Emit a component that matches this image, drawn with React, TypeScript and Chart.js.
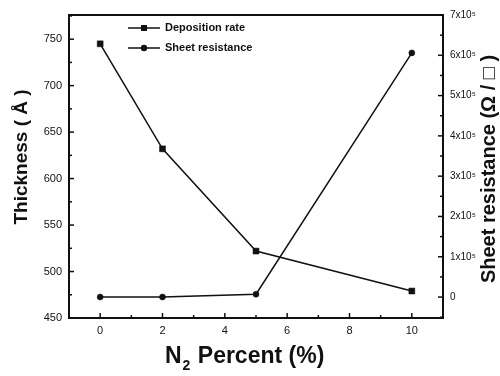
import React, { useEffect, useRef } from "react";
import { Chart, registerables } from "chart.js";

Chart.register(...registerables);

const nPercent = [0, 2, 5, 10];
const thickness = [745, 632, 522, 479];
const sheetResistance = [0, 0, 7000, 606000];
const seriesLabels = ["Deposition rate", "Sheet resistance"];
const xMajor = [0, 2, 4, 6, 8, 10];
const xMinor = [1, 3, 5, 7, 9];
const yMajor = [450, 500, 550, 600, 650, 700, 750];
const yMinor = [475, 525, 575, 625, 675, 725, 775];
const y1Major = [0, 100000, 200000, 300000, 400000, 500000, 600000, 700000];
const y1Minor = [-50000, 50000, 150000, 250000, 350000, 450000, 550000, 650000];

const FONT = "'Liberation Sans', Arial, sans-serif";
const INK = "#111";

const decorPlugin = {
  id: "decor",
  afterDatasetsDraw(chart: any) {
    const ctx = chart.ctx;
    const a = chart.chartArea;
    const sx = chart.scales.x;
    const sy = chart.scales.y;
    const sy1 = chart.scales.y1;
    ctx.save();
    ctx.strokeStyle = INK;
    // frame
    ctx.lineWidth = 2;
    ctx.strokeRect(a.left, a.top, a.right - a.left, a.bottom - a.top);
    // inward ticks
    ctx.lineWidth = 1.5;
    const tick = (x1: number, y1: number, x2: number, y2: number) => {
      ctx.beginPath();
      ctx.moveTo(x1, y1);
      ctx.lineTo(x2, y2);
      ctx.stroke();
    };
    xMajor.forEach((v) => { const p = sx.getPixelForValue(v); tick(p, a.bottom, p, a.bottom - 5); });
    xMinor.forEach((v) => { const p = sx.getPixelForValue(v); tick(p, a.bottom, p, a.bottom - 3); });
    yMajor.forEach((v) => { const p = sy.getPixelForValue(v); tick(a.left, p, a.left + 5, p); });
    yMinor.forEach((v) => { const p = sy.getPixelForValue(v); if (p > a.top) tick(a.left, p, a.left + 3, p); });
    y1Major.forEach((v) => { const p = sy1.getPixelForValue(v); tick(a.right, p, a.right - 5, p); });
    y1Minor.forEach((v) => { const p = sy1.getPixelForValue(v); if (p < a.bottom) tick(a.right, p, a.right - 3, p); });

    // legend
    ctx.fillStyle = INK;
    ctx.lineWidth = 1.5;
    ctx.font = `bold 11px ${FONT}`;
    ctx.textBaseline = "middle";
    const lx = a.left + 59;
    [0, 1].forEach((i) => {
      const ly = 28 + i * 20;
      tick(lx, ly, lx + 32, ly);
      if (i === 0) {
        ctx.fillRect(lx + 13, ly - 3, 6, 6);
      } else {
        ctx.beginPath();
        ctx.arc(lx + 16, ly, 3.2, 0, Math.PI * 2);
        ctx.fill();
      }
      ctx.textAlign = "left";
      ctx.fillText(seriesLabels[i], lx + 37, ly);
    });

    // titles
    ctx.textAlign = "center";
    ctx.textBaseline = "middle";
    ctx.font = `bold 19px ${FONT}`;
    ctx.save();
    ctx.translate(22, 157);
    ctx.rotate(-Math.PI / 2);
    ctx.fillText("Thickness ( \u00C5 )", 0, 0);
    ctx.restore();

    ctx.save();
    ctx.translate(489, 169);
    ctx.rotate(-Math.PI / 2);
    ctx.font = `bold 20px ${FONT}`;
    ctx.fillText("Sheet resistance (\u03A9 / \u25A1 )", 0, 0);
    ctx.restore();

    // x title with subscript
    ctx.textAlign = "left";
    ctx.textBaseline = "alphabetic";
    const bx = 165;
    const by = 363;
    ctx.font = `bold 23px ${FONT}`;
    ctx.fillText("N", bx, by);
    const nW = ctx.measureText("N").width;
    ctx.font = `bold 14px ${FONT}`;
    ctx.fillText("2", bx + nW + 1, by + 7);
    const sW = ctx.measureText("2").width;
    ctx.font = `bold 23px ${FONT}`;
    ctx.fillText(" Percent (%)", bx + nW + sW + 2, by);
    ctx.restore();
  },
};

export default function App() {
  const ref = useRef<HTMLCanvasElement | null>(null);
  useEffect(() => {
    if (!ref.current) return;
    const chart = new Chart(ref.current, {
      type: "scatter",
      data: {
        datasets: [
          {
            label: seriesLabels[0],
            data: nPercent.map((x, i) => ({ x, y: thickness[i] })),
            yAxisID: "y",
            showLine: true,
            borderColor: INK,
            backgroundColor: INK,
            borderWidth: 1.5,
            pointStyle: "rect",
            pointRadius: 4.2,
            pointHoverRadius: 4.2,
            pointBorderWidth: 0.5,
          },
          {
            label: seriesLabels[1],
            data: nPercent.map((x, i) => ({ x, y: sheetResistance[i] })),
            yAxisID: "y1",
            showLine: true,
            borderColor: INK,
            backgroundColor: INK,
            borderWidth: 1.5,
            pointStyle: "circle",
            pointRadius: 3,
            pointHoverRadius: 3,
            pointBorderWidth: 0.5,
          },
        ],
      },
      options: {
        animation: false,
        responsive: false,
        layout: { padding: { top: 15, left: 0, right: 0, bottom: 0 } },
        plugins: { legend: { display: false }, tooltip: { enabled: false } },
        scales: {
          x: {
            type: "linear",
            min: -1,
            max: 11,
            afterBuildTicks: (s: any) => { s.ticks = xMajor.map((v) => ({ value: v })); },
            afterFit: (s: any) => { s.height = 58; },
            grid: { display: false, drawTicks: false },
            border: { display: false },
            ticks: { color: INK, font: { size: 11, family: FONT }, padding: 6, maxRotation: 0 },
          },
          y: {
            type: "linear",
            position: "left",
            min: 450,
            max: 776,
            afterBuildTicks: (s: any) => { s.ticks = yMajor.map((v) => ({ value: v })); },
            afterFit: (s: any) => { s.width = 69; },
            grid: { display: false, drawTicks: false },
            border: { display: false },
            ticks: { color: INK, font: { size: 11, family: FONT }, padding: 7 },
          },
          y1: {
            type: "linear",
            position: "right",
            min: -52000,
            max: 700000,
            afterBuildTicks: (s: any) => { s.ticks = y1Major.map((v) => ({ value: v })); },
            afterFit: (s: any) => { s.width = 57; },
            grid: { display: false, drawTicks: false },
            border: { display: false },
            ticks: {
              color: INK,
              font: { size: 10, family: FONT },
              padding: 7,
              callback: (v: any) => (v === 0 ? "0" : `${Math.round(v / 100000)}x10\u2075`),
            },
          },
        },
      },
      plugins: [decorPlugin],
    });
    return () => chart.destroy();
  }, []);
  return (
    <div style={{ position: "fixed", left: 0, top: 0, width: 500, height: 376, background: "#fff" }}>
      <canvas ref={ref} width={500} height={376} style={{ width: 500, height: 376, display: "block" }} />
    </div>
  );
}
